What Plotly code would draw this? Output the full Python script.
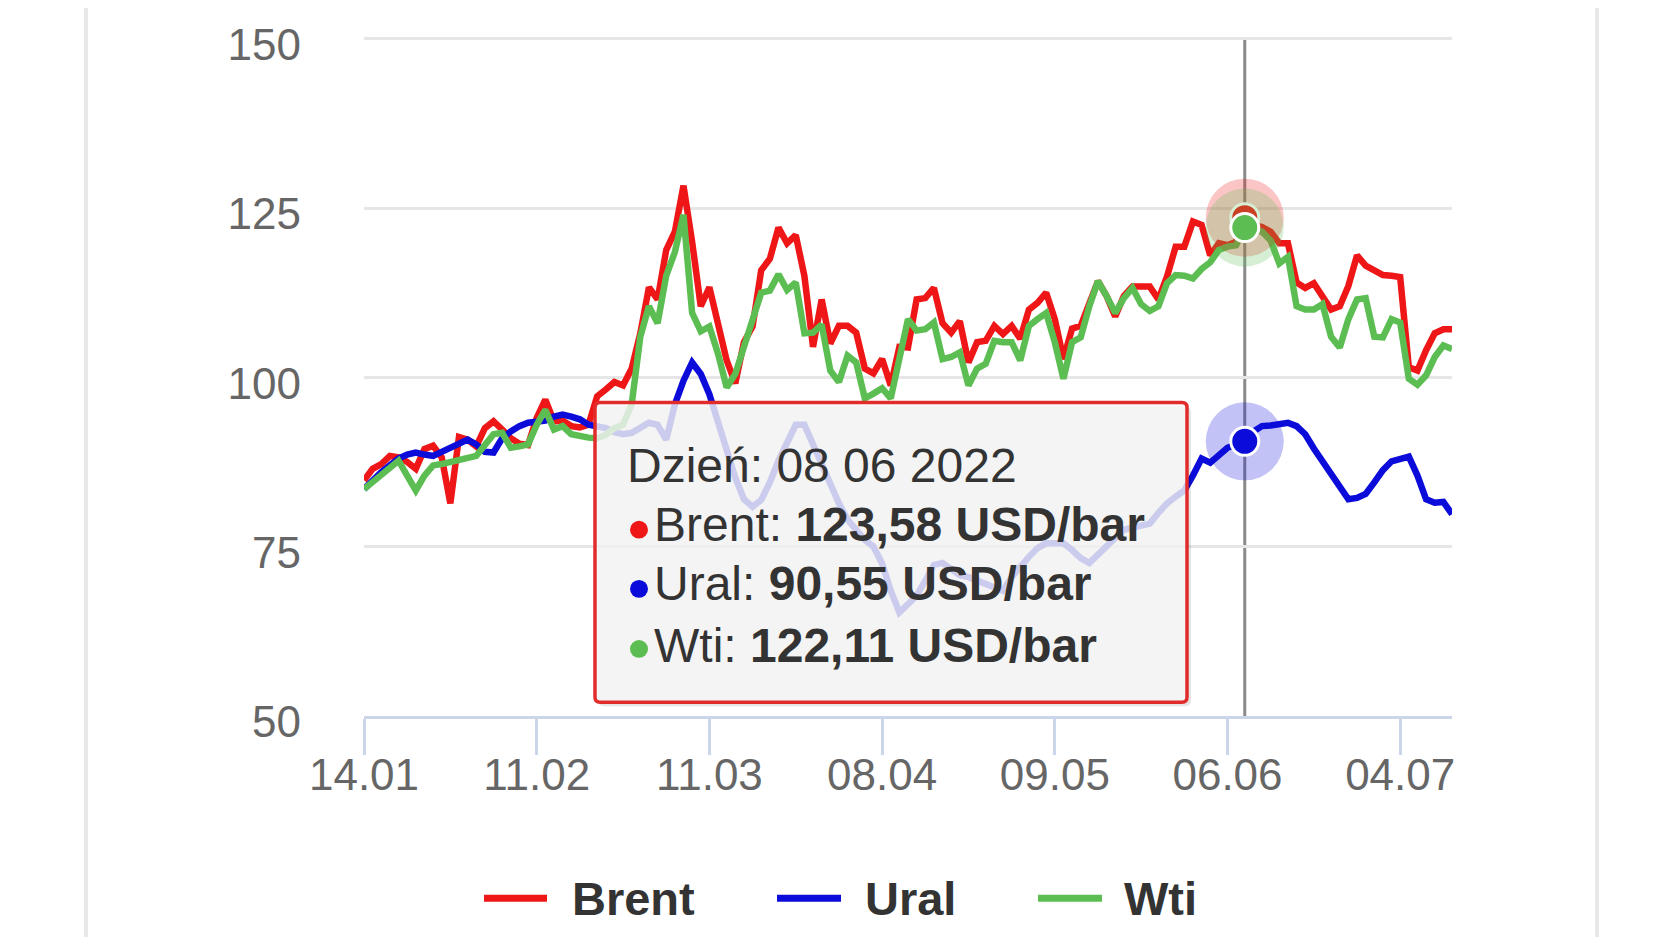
import pandas as pd
import plotly.graph_objects as go

# ---------------- data ----------------
# trading days 14.01.2022 - 12.07.2022 (market closed on Good Friday)
days = [d for d in pd.bdate_range("2022-01-14", "2022-07-12") if d != pd.Timestamp("2022-04-15")]
day_labels = [d.strftime("%d.%m") for d in days]
tick_labels = ["14.01", "11.02", "11.03", "08.04", "09.05", "06.06", "04.07"]
y_ticks = [50, 75, 100, 125, 150]
hover_label = "08.06"
hover_title = "Dzień: 08 06 2022"
unit = "USD/bar"

brent = [84.8, 86.5, 87.2, 88.4, 88.2, 87.5, 86.5, 89.4, 89.9, 88.2,
         81.4, 91.2, 90.8, 89.8, 92.5, 93.5, 92.3, 91.0, 90.2, 90.0,
         94.0, 96.7, 93.5, 93.6, 92.8, 92.6, 93.0, 97.2, 98.2, 99.3,
         98.8, 101.3, 106.5, 113.3, 111.5, 118.8, 121.5, 128.3, 120.0, 110.5,
         113.3, 108.0, 102.5, 99.1, 105.2, 107.5, 115.8, 117.5, 122.1, 119.8,
         121.0, 115.0, 104.5, 111.5, 105.0, 107.6, 107.6, 106.6, 101.3, 100.6,
         102.7, 98.8, 104.5, 104.4, 111.5, 111.7, 113.2, 108.0, 106.6, 108.3,
         102.2, 105.2, 105.4, 107.6, 106.4, 107.6, 105.7, 110.0, 111.0, 112.5,
         108.6, 102.7, 107.2, 107.6, 111.0, 114.2, 112.0, 109.0, 112.0, 113.4,
         113.4, 113.4, 111.5, 114.9, 119.3, 119.3, 123.0, 122.5, 118.0, 119.8,
         119.5, 120.0, 123.58, 122.5, 122.2, 121.5, 119.8, 119.8, 114.0, 113.2,
         113.9, 112.0, 110.0, 110.5, 113.5, 118.0, 116.5, 115.8, 115.1, 115.0,
         114.8, 101.5, 101.0, 104.0, 106.5, 107.1, 107.1]

ural = [83.5, 84.8, 86.0, 87.0, 88.0, 88.6, 88.9, 88.6, 88.4, 89.0,
        89.6, 90.3, 90.8, 90.1, 89.0, 88.9, 91.0, 92.0, 92.8, 93.3,
        93.5, 93.6, 94.2, 94.5, 94.2, 93.8, 93.0, 92.8, 92.5, 91.9,
        91.6, 91.8, 92.6, 93.3, 93.0, 90.8, 96.0, 99.5, 102.2, 100.5,
        97.5, 93.5, 89.0, 85.2, 82.0, 80.9, 81.9, 84.5, 87.7, 90.5,
        93.0, 93.0, 90.1, 87.0, 84.0, 81.4, 79.0, 77.5, 76.0, 75.0,
        72.5, 68.5, 65.3, 66.5, 67.8, 70.0, 72.3, 72.6, 71.6, 70.8,
        70.5, 70.0, 69.6, 69.0, 68.5, 70.5, 72.1, 73.5, 74.8, 75.5,
        75.5, 75.5, 74.5, 73.3, 72.6, 73.8, 75.0, 76.0, 77.5, 77.8,
        78.2, 78.4, 80.0, 81.4, 82.4, 83.3, 85.5, 88.0, 87.4, 88.5,
        89.6, 90.1, 90.55, 92.0, 92.8, 92.9, 93.0, 93.3, 92.8, 91.6,
        89.5, 87.6, 85.9, 83.8, 82.0, 82.2, 82.8, 84.5, 86.3, 87.6,
        87.9, 88.3, 85.5, 82.0, 81.5, 81.6, 79.8]

wti = [83.5, 84.5, 85.8, 86.8, 87.7, 85.5, 83.3, 85.5, 87.0, 87.2,
       87.5, 87.9, 88.2, 88.4, 90.0, 91.6, 91.8, 89.6, 89.8, 90.1,
       93.0, 95.2, 92.3, 92.8, 91.6, 91.3, 91.1, 91.0, 91.5, 92.5,
       93.0, 96.0, 106.0, 110.5, 108.0, 115.0, 118.5, 124.0, 109.5, 106.8,
       107.5, 103.5, 98.5, 100.5, 104.5, 108.5, 112.5, 112.8, 115.2, 112.9,
       114.0, 106.5, 106.6, 107.8, 101.0, 99.3, 103.2, 102.2, 96.9, 97.6,
       98.4, 96.9, 102.7, 108.6, 106.9, 107.1, 108.1, 102.7, 103.0, 103.7,
       98.8, 101.3, 102.0, 105.4, 105.2, 105.2, 102.5, 107.6, 108.6, 109.5,
       105.2, 99.8, 105.2, 105.9, 110.5, 114.2, 112.0, 109.5, 111.7, 113.2,
       110.8, 109.8, 110.5, 113.9, 115.1, 115.0, 114.6, 116.0, 117.0, 118.8,
       119.3, 119.5, 122.11, 121.8, 121.5, 120.2, 116.8, 117.8, 110.5, 110.0,
       110.0, 110.8, 106.0, 104.4, 108.6, 111.5, 111.7, 106.0, 105.9, 108.6,
       108.1, 99.8, 98.9, 100.3, 103.0, 104.7, 104.2]

series_names = ["Brent", "Ural", "Wti"]
series_values = [brent, ural, wti]

# ---------------- styling ----------------
COLORS = {"Brent": "rgb(238,22,22)", "Ural": "rgb(12,12,218)", "Wti": "rgb(92,190,82)"}
HALOS = {"Brent": "rgba(238,22,22,0.25)", "Ural": "rgba(12,12,218,0.25)", "Wti": "rgba(92,190,82,0.25)"}
FONT = "Liberation Sans, Arial, Helvetica, sans-serif"

# y range is padded slightly at the top so the 150 gridline is not clipped at the edge
Y_MIN, Y_MAX = 50, 150.25

# page coordinates (the page body has an 8px margin)
OFF = 8
W, H = 1664, 929
PLOT_L, PLOT_R, PLOT_B = 364, 1452, 716                  # plot area in page pixels
GRID_150 = 29                                            # page y of the 150 gridline
PLOT_T = round(PLOT_B - (PLOT_B - GRID_150) * (Y_MAX - Y_MIN) / (150 - Y_MIN))
L, T = PLOT_L - OFF, PLOT_T - OFF
R = W - (PLOT_R - OFF)
B = H - (PLOT_B - OFF)
PW, PH = PLOT_R - PLOT_L, PLOT_B - PLOT_T


def px(x):
    return (x - PLOT_L) / PW


def py(y):
    return (PLOT_B - y) / PH


fig = go.Figure()

for name, vals in zip(series_names, series_values):
    fig.add_trace(go.Scatter(x=day_labels, y=vals, mode="lines", name=name,
                             line=dict(color=COLORS[name], width=6.5),
                             hoverinfo="skip", showlegend=False))

hi = day_labels.index(hover_label)
for name, vals in zip(series_names, series_values):
    fig.add_trace(go.Scatter(x=[day_labels[hi]], y=[vals[hi]], mode="markers",
                             marker=dict(size=78, color=HALOS[name], line=dict(width=0)),
                             hoverinfo="skip", showlegend=False))
    fig.add_trace(go.Scatter(x=[day_labels[hi]], y=[vals[hi]], mode="markers",
                             marker=dict(size=28, color=COLORS[name], line=dict(color="white", width=3)),
                             hoverinfo="skip", showlegend=False))

shapes = []
# card borders
for xb in (86, 1597):
    shapes.append(dict(type="line", xref="paper", yref="paper", x0=px(xb), x1=px(xb),
                       y0=py(960), y1=py(-20), line=dict(color="#e8e8e8", width=4), layer="below"))
# crosshair (from the 150 gridline down to the axis)
shapes.append(dict(type="line", xref="x", yref="paper", x0=hi, x1=hi, y0=0, y1=py(GRID_150),
                   line=dict(color="#8a8a8a", width=3), layer="below"))


def rounded(xa, ya, xb, yb, r):
    x0, x1, y0, y1 = px(xa), px(xb), py(yb), py(ya)
    rx, ry = r / PW, r / PH
    return (f"M{x0+rx},{y1} L{x1-rx},{y1} Q{x1},{y1} {x1},{y1-ry} L{x1},{y0+ry} "
            f"Q{x1},{y0} {x1-rx},{y0} L{x0+rx},{y0} Q{x0},{y0} {x0},{y0+ry} "
            f"L{x0},{y1-ry} Q{x0},{y1} {x0+rx},{y1} Z")


# tooltip shadow + box
shapes.append(dict(type="path", xref="paper", yref="paper", path=rounded(598, 402, 1191, 706, 6),
                   fillcolor="rgba(0,0,0,0.10)", line=dict(width=0), layer="above"))
shapes.append(dict(type="path", xref="paper", yref="paper", path=rounded(595, 398, 1187, 702, 5),
                   fillcolor="rgba(247,247,247,0.82)", line=dict(color="rgb(226,44,44)", width=3.5),
                   layer="above"))
# tooltip bullets
bullet_y = [527, 587, 648]
for name, yb in zip(series_names, bullet_y):
    r = 9
    shapes.append(dict(type="circle", xref="paper", yref="paper",
                       x0=px(639 - r), x1=px(639 + r), y0=py(yb + r), y1=py(yb - r),
                       fillcolor=COLORS[name], line=dict(width=0), layer="above"))

# manual legend symbols
legend_sym_x = [(484, 547), (777, 841), (1038, 1102)]
legend_text_x = [571, 864, 1123]
LEG_Y = 901
for name, (xa, xb) in zip(series_names, legend_sym_x):
    shapes.append(dict(type="line", xref="paper", yref="paper", x0=px(xa), x1=px(xb),
                       y0=py(LEG_Y), y1=py(LEG_Y), line=dict(color=COLORS[name], width=7)))

annotations = []


def fmt(v):
    return f"{v:.2f}".replace(".", ",")


annotations.append(dict(xref="paper", yref="paper", x=px(626), y=py(462), xanchor="left", yanchor="middle",
                        text=hover_title, showarrow=False, borderpad=0,
                        font=dict(family=FONT, size=48, color="#333333")))
text_y = [522, 582, 644]
for name, vals, yt in zip(series_names, series_values, text_y):
    annotations.append(dict(xref="paper", yref="paper", x=px(653), y=py(yt), xanchor="left", yanchor="middle",
                            text=f"{name}: <b>{fmt(vals[hi])} {unit}</b>", showarrow=False, borderpad=0,
                            font=dict(family=FONT, size=48, color="#333333")))

for name, xt in zip(series_names, legend_text_x):
    annotations.append(dict(xref="paper", yref="paper", x=px(xt), y=py(LEG_Y), xanchor="left", yanchor="middle",
                            text=f"<b>{name}</b>", showarrow=False, borderpad=0,
                            font=dict(family=FONT, size=47, color="#333333")))

fig.update_layout(
    width=W, height=H,
    margin=dict(l=L, r=R, t=T, b=B, pad=0),
    paper_bgcolor="white", plot_bgcolor="white",
    showlegend=False,
    font=dict(family=FONT, color="#666666"),
    shapes=shapes, annotations=annotations,
    xaxis=dict(type="category", range=[0, len(day_labels) - 1], tickmode="array",
               tickvals=tick_labels, ticktext=tick_labels,
               ticks="outside", ticklen=36, tickwidth=2.5, tickcolor="#ccd6eb",
               showline=True, linecolor="#ccd6eb", linewidth=3, showgrid=False, zeroline=False,
               tickfont=dict(family=FONT, size=44, color="#666666"), ticklabelstandoff=-18),
    yaxis=dict(range=[Y_MIN, Y_MAX], tickmode="array", tickvals=y_ticks,
               showgrid=True, gridcolor="#e6e6e6", gridwidth=2.5, zeroline=False, showline=False,
               ticks="", tickfont=dict(family=FONT, size=44, color="#666666"),
               ticklabelstandoff=62, ticklabelshift=6),
)

fig.write_html("out.html")
